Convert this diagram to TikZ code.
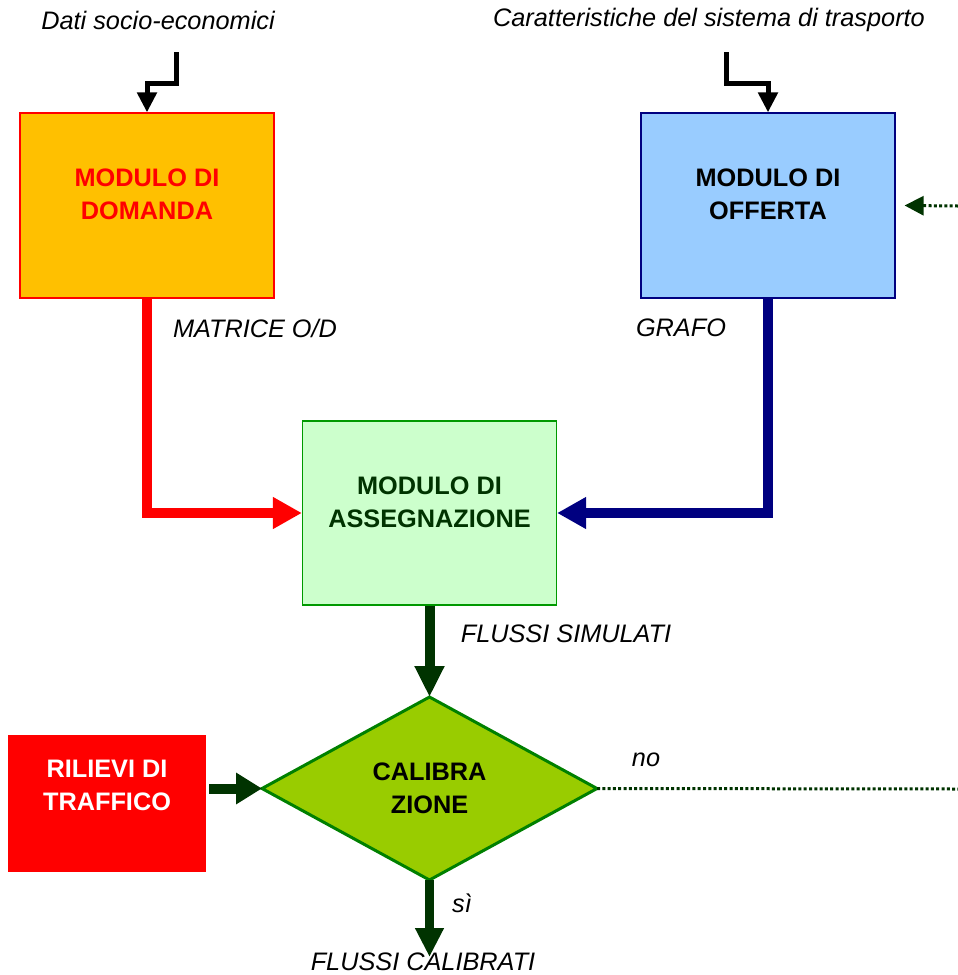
\documentclass[tikz,border=0pt]{standalone}
\usepackage{fontspec}
\setmainfont{Liberation Sans}
\usetikzlibrary{arrows.meta,shapes.geometric}
\definecolor{cOrange}{HTML}{FFC000}
\definecolor{cRed}{HTML}{FF0000}
\definecolor{cSky}{HTML}{99CCFF}
\definecolor{cNavy}{HTML}{000080}
\definecolor{cMint}{HTML}{CCFFCC}
\definecolor{cGreenLine}{HTML}{009900}
\definecolor{cDarkGreen}{HTML}{003300}
\definecolor{cLime}{HTML}{99CC00}
\definecolor{cDiaLine}{HTML}{008000}
\tikzset{
  boxnode/.style={rectangle, minimum width=254pt, minimum height=185pt, inner sep=0pt, line width=1.2pt},
  boxtext/.style={font=\fontsize{25.3}{33}\selectfont\bfseries, align=center},
  lbl/.style={font=\fontsize{25.3}{28}\selectfont\itshape, inner sep=0pt},
  thinarr/.style={line width=5pt, black, -{Triangle[length=20pt,width=19pt]}},
  fatarr/.style={line width=10pt, -{Triangle[length=29pt,width=30pt]}},
  dotline/.style={line width=3pt, cDarkGreen, dash pattern=on 3pt off 2.3pt},
}
\begin{document}
\begin{tikzpicture}[x=1pt,y=-1pt]
\useasboundingbox (0,0) rectangle (958,975);
% boxes
\node[boxnode, draw=cRed, fill=cOrange,
  label={[boxtext, text=cRed, yshift=11pt]center:MODULO DI\\DOMANDA}] (domanda) at (147,205.5) {};
\node[boxnode, draw=cNavy, fill=cSky,
  label={[boxtext, text=black, yshift=11pt]center:MODULO DI\\OFFERTA}] (offerta) at (768,205.5) {};
\node[boxnode, draw=cGreenLine, fill=cMint, minimum height=184pt,
  label={[boxtext, text=cDarkGreen, yshift=11pt]center:MODULO DI\\ASSEGNAZIONE}] (assegna) at (429.5,513) {};
\node[rectangle, fill=cRed, minimum width=198pt, minimum height=137pt, inner sep=0pt,
  label={[boxtext, text=white, yshift=18pt]center:RILIEVI DI\\TRAFFICO}] (rilievi) at (107,803.5) {};
\node[diamond, draw=cDiaLine, fill=cLime, line width=3pt, minimum width=335pt, minimum height=183pt,
  inner sep=0pt, outer sep=0pt, boxtext, text=black] (calib) at (429.5,788.5) {CALIBRA\\ZIONE};

% coordinates of free ends
\coordinate (d0) at (176,52);
\coordinate (o0) at (726,52);
\coordinate (dotstart) at (958,206);
\coordinate (noend) at (958,789);
\coordinate (calend) at (429.5,957);

% input arrows
\draw[thinarr] (d0) -- ++(0,31) -| (domanda.north);
\draw[thinarr] (o0) -- ++(0,31) -| (offerta.north);

% feedback dotted arrow
\draw[dotline, -{Triangle[length=19pt,width=19pt]}] (dotstart) -- ([xshift=9pt]offerta.east);

% main arrows
\draw[fatarr, cRed] (domanda.south) |- (assegna.west);
\draw[fatarr, cNavy] (offerta.south) |- (assegna.east);
\draw[line width=10pt, cDarkGreen, -{Triangle[length=31pt,width=28pt]}] (assegna.south) -- (calib.north);
\draw[line width=10pt, cDarkGreen, -{Triangle[length=26pt,width=30pt]}] ([xshift=3pt]rilievi.east |- calib.west) -- (calib.west);
\draw[line width=9pt, cDarkGreen, -{Triangle[length=29pt,width=27pt]}] (calib.south) -- (calend);
\draw[dotline] (calib.east) -- (noend);

% labels
\node[lbl] (l1) at (158,20) {Dati socio-economici};
\node[lbl] (l2) at (709,20) {Caratteristiche del sistema di trasporto};
\node[lbl] (l3) at (255,328) {MATRICE O/D};
\node[lbl] (l4) at (681,328) {GRAFO};
\node[lbl] (l5) at (566,634) {FLUSSI SIMULATI};
\node[lbl] (l6) at (646,760) {no};
\node[lbl] (l7) at (462,903) {sì};
\node[lbl] (l8) at (423,962) {FLUSSI CALIBRATI};
\end{tikzpicture}
\end{document}
